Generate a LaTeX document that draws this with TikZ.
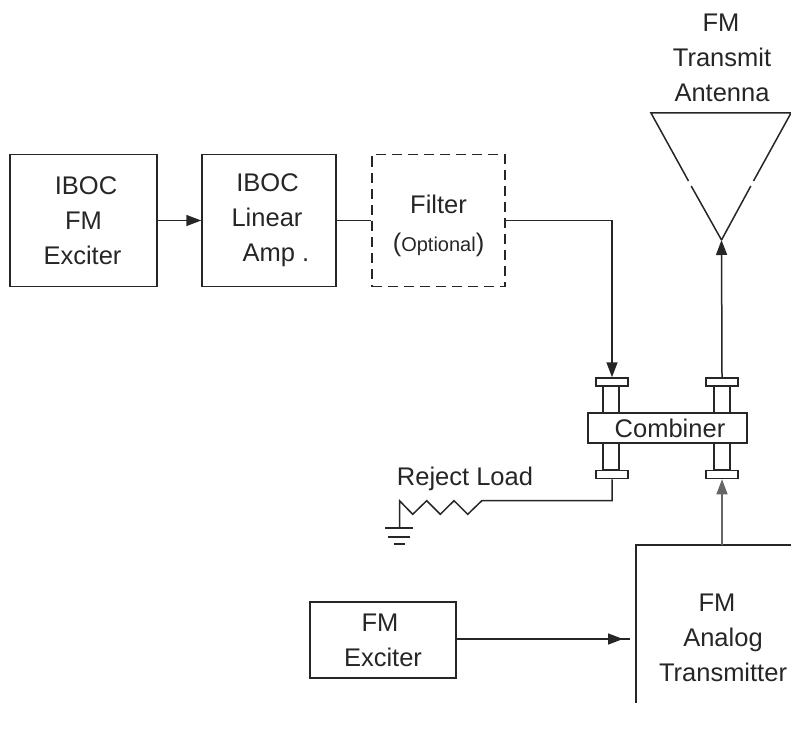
\documentclass[tikz,border=0pt]{standalone}
\usepackage{fontspec}
\setmainfont{Liberation Sans}
\usetikzlibrary{arrows.meta}

\tikzset{
	ink/.style={draw=black!85,line width=1.5pt},
	lbl/.style={align=center,inner sep=0pt,text=black!85,font=\fontsize{25.5}{35}\selectfont},
	block/.style={shape=rectangle,ink,lbl,minimum height=132pt},
	flange/.style={shape=rectangle,ink,fill=white,inner sep=0pt,minimum width=32pt,minimum height=8pt},
	tube/.style={shape=rectangle,ink,inner sep=0pt,minimum width=16pt,minimum height=28pt},
	signal/.style={ink,-{Triangle[length=15pt,width=11pt]}},
	wire/.style={ink}
}

\begin{document}
\begin{tikzpicture}[x=1pt,y=-1pt]
	\useasboundingbox (0,0) rectangle (791,730);

	\node[block,minimum width=147pt] (exciter) at (83.5,220.5) {\hspace*{5pt}IBOC\\FM\\\hspace*{-2pt}Exciter};
	\node[block,minimum width=134pt] (amp) at (269,220.5) {\hspace*{-3pt}IBOC\\\hspace*{-4pt}Linear\\\hspace*{14pt}Amp .};
	\node[block,minimum width=133pt,dash pattern=on 10pt off 6pt] (filter) at (438.5,220.5) {};
	\node[block,minimum width=146pt,minimum height=76pt] (fmexciter) at (383,640) {\hspace*{-6pt}FM\\Exciter};

	\node[lbl] (filterlabel) at (438.5,226) {Filter\\[3pt]({\fontsize{20}{24}\selectfont Optional})};
	\node[lbl] (antennalabel) at (722,58) {\hspace*{-2pt}FM\\Transmit\\Antenna};
	\node[lbl] (rejectlabel) at (465,479) {Reject Load};
	\node[lbl] (txlabel) at (723,638) {\hspace*{-12pt}FM\\Analog\\Transmitter};

	\node[tube] (tubetl) at (611,400) {};
	\node[tube] (tubetr) at (722,400) {};
	\node[tube] (tubebl) at (611,456) {};
	\node[tube] (tubebr) at (722,456) {};
	\node[flange] (flangetl) at (612,382) {};
	\node[flange] (flangetr) at (722,382) {};
	\node[flange] (flangebl) at (612,474.5) {};
	\node[flange] (flangebr) at (722,474.5) {};
	\node[shape=rectangle,ink,lbl,fill=white,minimum width=159pt,minimum height=30pt] (combiner) at (667.5,428) {\hspace*{5pt}Combiner};

	\coordinate (apex) at (721.5,240);
	\coordinate (hornl) at (651,113);
	\coordinate (hornr) at (791,113);
	\coordinate (txtop) at (722,545);
	\coordinate (txtip) at (623,639);
	\coordinate (txleft) at (630,639);
	\coordinate (loadend) at (482,500.5);
	\coordinate (earth) at (399.5,528);

	% antenna
	\draw[wire] (apex) -- (691.2,186);
	\draw[wire] (688.5,181) -- (hornl) -- (hornr) -- (753.5,181);
	\draw[wire] (750.8,186) -- (apex);

	% analog transmitter, cut off by the page
	\draw[wire] (636,703) -- (636,545) -- (txtop) -- (791,545);

	\draw[signal] (exciter.east) -- (amp.west);
	\draw[wire] (amp.east) -- (filter.west);
	\draw[signal] (filter.east) -| (flangetl.north);
	\draw[signal] (flangetr.north) -- (apex);
	\draw[signal,draw=black!60,line width=1.1pt] (txtop) -- (flangebr.south);
	\draw[wire] (fmexciter.east |- txleft) -- (txleft);
	\draw[signal] (fmexciter.east |- txtip) -- (txtip);

	% reject load
	\draw[wire] (flangebl.south) |- (loadend) -- (467.7,514.3) -- (454,500.7) -- (440.3,514.3)
		-- (426.7,500.7) -- (412.7,514.3) -- (399.5,500.7) -- (earth);
	\draw[wire] (385,528) -- (413,528);
	\draw[wire] (388,537) -- (410,537);
	\draw[wire] (393.5,544) -- (405,544);
\end{tikzpicture}
\end{document}
